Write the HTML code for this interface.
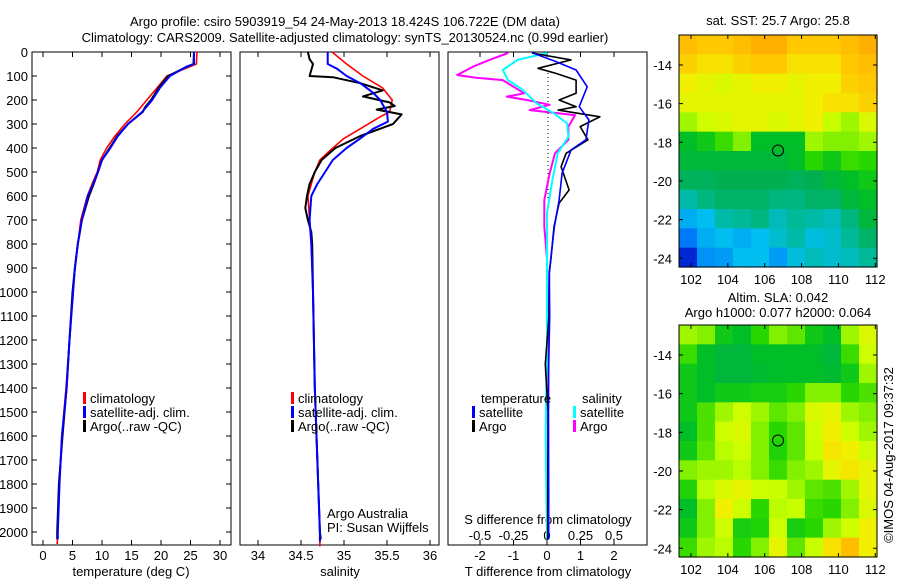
<!DOCTYPE html>
<html><head><meta charset="utf-8"><style>
body{margin:0;background:#fff;}
svg{display:block;font-family:"Liberation Sans",sans-serif;}
text{font-size:13px;fill:#000;}
</style></head><body>
<svg id="c" width="900" height="580" xmlns="http://www.w3.org/2000/svg"></svg>
<script>
// ---- data ----
const depthTicks=[0,100,200,300,400,500,600,700,800,900,1000,1100,1200,1300,1400,1500,1600,1700,1800,1900,2000];
const tempTicks=[0,5,10,15,20,25,30];
const salTicks=[34,34.5,35,35.5,36];
const tdTicks=[-2,-1,0,1,2];
const sdTickLabels=['-0.5','-0.25','0','0.25','0.5'];
const sdTicks=[-0.5,-0.25,0,0.25,0.5];
const tDepthClim=[0,50,100,150,200,250,300,350,400,450,500,550,600,700,800,900,1000,1200,1400,1600,1800,2000,2050];
const tempClim=[26.1,26.0,21.0,19.3,17.6,15.9,13.9,12.2,10.8,9.7,9.2,8.3,7.5,6.4,5.9,5.4,5.1,4.5,3.9,3.2,2.8,2.5,2.4];
const tDepthSat=[0,50,60,100,150,200,250,300,350,400,450,500,550,600,700,800,900,1000,1200,1400,1600,1800,2000,2030];
const tempSat=[25.6,25.6,24.4,21.5,19.8,18.5,16.8,14.4,12.7,11.4,10.0,9.3,8.5,7.6,6.6,5.9,5.4,5.1,4.5,4.0,3.2,2.8,2.5,2.5];
const tDepthArgo=[0,50,60,100,150,200,230,250,300,350,400,450,500,550,600,700,800,900,1000,1200,1400,1600,1800,2000,2030];
const tempArgo=[25.6,25.5,24.5,21.2,19.6,18.3,17.3,16.9,14.4,12.6,11.3,10.0,9.3,8.6,7.8,6.6,5.9,5.4,5.0,4.5,4.0,3.3,2.7,2.4,2.4];
const sDepthClim=[0,50,100,150,200,250,270,320,360,400,450,500,550,600,700,800,1000,1400,1600,1800,2000,2060];
const salClim=[34.86,35.03,35.22,35.45,35.56,35.53,35.42,35.19,35.0,34.87,34.72,34.66,34.62,34.58,34.6,34.62,34.64,34.66,34.68,34.70,34.72,34.72];
const sDepthSat=[0,50,70,100,130,170,200,250,290,320,360,400,450,500,550,600,700,800,1000,1400,1600,1800,2000,2040];
const salSat=[34.81,34.81,34.92,35.03,35.19,35.34,35.42,35.5,35.51,35.34,35.19,35.03,34.87,34.78,34.69,34.62,34.6,34.62,34.64,34.66,34.68,34.70,34.72,34.72];
const sDepthArgo=[0,30,50,100,105,130,160,185,210,225,240,260,300,350,400,450,500,550,600,650,700,750,800,1000,1400,1800,2000,2030];
const salArgo=[34.58,34.60,34.64,34.6,34.87,35.19,35.45,35.22,35.53,35.59,35.38,35.67,35.57,35.19,34.9,34.74,34.66,34.6,34.57,34.55,34.58,34.62,34.63,34.64,34.66,34.70,34.72,34.73];
const dDepthTSat=[4,40,75,145,228,283,366,408,505,617,728,838,920,1100,1300,1500,1900,2030];
const dTSat=[-0.42,0.27,0.87,1.2,0.96,1.25,1.16,0.72,0.45,0.36,0.22,0.13,0.07,0.08,0.05,0.04,0.05,0.05];
const dDepthTArgo=[4,33,68,89,117,172,200,228,242,270,311,366,422,478,575,630,728,860,920,1100,1300,1500,1900,2030];
const dTArgo=[-0.45,0.72,-0.27,0.27,0.87,0.87,0.36,0.87,0.33,1.58,0.99,1.22,0.57,0.42,0.66,0.36,0.21,0.12,0.07,0.06,-0.05,0.03,0.02,0.02];
const dDepthSSat=[4,33,75,117,158,213,255,297,353,422,533,672,860,1200,1600,2030];
const dSSat=[0.0,-0.22,-0.33,-0.29,-0.18,-0.08,0.05,0.15,0.16,0.08,0.04,0.0,0.0,0.0,-0.01,0.0];
const dDepthSArgo=[4,33,61,96,107,117,172,186,200,220,242,263,311,366,422,505,617,728,860,1200,1600,2030];
const dSArgo=[-0.29,-0.43,-0.55,-0.67,-0.53,-0.33,-0.17,-0.3,-0.15,0.02,-0.13,0.21,0.16,0.16,0.06,0.02,-0.02,-0.02,0.0,0.01,0.01,0.01];
const lonTicks=[102,104,106,108,110,112];
const latTicks=[-14,-16,-18,-20,-22,-24];
const sstGrid=[
[0.82,0.8,0.8,0.82,0.85,0.85,0.8,0.8,0.8,0.82,0.85],
[0.78,0.75,0.75,0.78,0.8,0.8,0.75,0.75,0.75,0.8,0.82],
[0.72,0.7,0.68,0.7,0.72,0.72,0.7,0.72,0.72,0.78,0.8],
[0.7,0.7,0.7,0.7,0.7,0.7,0.7,0.72,0.75,0.75,0.78],
[0.62,0.66,0.68,0.7,0.7,0.68,0.7,0.72,0.65,0.62,0.68],
[0.5,0.52,0.56,0.6,0.5,0.5,0.5,0.62,0.6,0.6,0.62],
[0.48,0.48,0.48,0.48,0.48,0.48,0.5,0.55,0.52,0.56,0.55],
[0.45,0.45,0.46,0.46,0.46,0.46,0.45,0.46,0.48,0.5,0.52],
[0.38,0.42,0.44,0.44,0.44,0.42,0.42,0.44,0.44,0.48,0.5],
[0.28,0.3,0.38,0.4,0.42,0.36,0.4,0.38,0.36,0.42,0.48],
[0.22,0.28,0.3,0.28,0.3,0.34,0.38,0.32,0.34,0.4,0.44],
[0.1,0.25,0.26,0.3,0.3,0.26,0.32,0.36,0.34,0.36,0.4]];
const slaGrid=[
[0.62,0.6,0.52,0.5,0.55,0.6,0.58,0.52,0.5,0.62,0.68],
[0.56,0.5,0.48,0.48,0.5,0.5,0.5,0.5,0.48,0.56,0.66],
[0.52,0.5,0.48,0.48,0.49,0.5,0.5,0.5,0.49,0.52,0.62],
[0.52,0.5,0.52,0.52,0.53,0.53,0.55,0.6,0.6,0.55,0.57],
[0.52,0.57,0.62,0.66,0.62,0.58,0.6,0.68,0.7,0.62,0.6],
[0.5,0.57,0.66,0.68,0.6,0.55,0.58,0.66,0.72,0.66,0.62],
[0.52,0.58,0.64,0.66,0.6,0.54,0.58,0.65,0.74,0.72,0.66],
[0.6,0.62,0.62,0.64,0.6,0.56,0.6,0.62,0.7,0.74,0.7],
[0.54,0.64,0.68,0.7,0.66,0.65,0.62,0.58,0.57,0.62,0.7],
[0.5,0.6,0.72,0.66,0.55,0.64,0.65,0.56,0.55,0.6,0.68],
[0.52,0.6,0.66,0.53,0.54,0.66,0.53,0.55,0.62,0.66,0.72],
[0.56,0.62,0.64,0.55,0.6,0.7,0.58,0.65,0.75,0.82,0.72]];
const argoLon=106.722, argoLat=-18.424;

// ---- helpers ----
const NS='http://www.w3.org/2000/svg';
const svg=document.getElementById('c');
function el(tag,attrs,parent){const e=document.createElementNS(NS,tag);for(const k in attrs)e.setAttribute(k,attrs[k]);(parent||svg).appendChild(e);return e;}
function txt(x,y,s,anchor,parent){const t=el('text',{x:x,y:y,'text-anchor':anchor||'start'},parent);t.textContent=s;return t;}
const yD=d=>52+d*0.24;
const xT=t=>43+t*5.9;
const xS=s=>258+(s-34)*86;
const xdT=t=>547+t*33.5;
const xdS=s=>547+s*134;
function line(xs,ds,fx,color,w,name){
  const p=xs.map((v,i)=>fx(v).toFixed(1)+','+yD(ds[i]).toFixed(1)).join(' ');
  const l=el('polyline',{points:p,fill:'none',stroke:color,'stroke-width':w,'stroke-linejoin':'round'});
  
  
}
function panel(x0,name){
  const r=el('rect',{x:x0,y:52,width:199,height:493,fill:'none',stroke:'#000','stroke-width':1});
  
  
}

let t=txt(345,26,'Argo profile: csiro 5903919_54 24-May-2013 18.424S 106.722E (DM data)','middle');

t=txt(345,42,'Climatology: CARS2009. Satellite-adjusted climatology: synTS_20130524.nc (0.99d earlier)','middle');


panel(32,'temperature-panel');panel(240,'salinity-panel');panel(448,'difference-panel');

depthTicks.forEach(d=>{
  const y=yD(d);
  const lb=txt(28,y+5,String(d),'end');
  
  
  el('line',{x1:32,y1:y,x2:37,y2:y,stroke:'#000'});
  el('line',{x1:226,y1:y,x2:231,y2:y,stroke:'#000'});
});
tempTicks.forEach(v=>{const x=xT(v);
  el('line',{x1:x,y1:545,x2:x,y2:540,stroke:'#000'});el('line',{x1:x,y1:52,x2:x,y2:57,stroke:'#000'});
  const lb=txt(x,560,String(v),'middle');});
t=txt(131,576,'temperature (deg C)','middle');
salTicks.forEach(v=>{const x=xS(v);
  el('line',{x1:x,y1:545,x2:x,y2:540,stroke:'#000'});el('line',{x1:x,y1:52,x2:x,y2:57,stroke:'#000'});
  const lb=txt(x,560,String(v),'middle');});
t=txt(340,576,'salinity','middle');
tdTicks.forEach(v=>{const x=xdT(v);
  el('line',{x1:x,y1:545,x2:x,y2:540,stroke:'#000'});el('line',{x1:x,y1:52,x2:x,y2:57,stroke:'#000'});
  const lb=txt(x,560,String(v),'middle');});
sdTicks.forEach((v,i)=>{const lb=txt(xdS(v),540,sdTickLabels[i],'middle');});
t=txt(548,524,'S difference from climatology','middle');
t=txt(548,576,'T difference from climatology','middle');
const dz=el('line',{x1:548,y1:73,x2:548,y2:200,stroke:'#000','stroke-dasharray':'1,3'});


line(tempClim,tDepthClim,xT,'#f00',1.6,'temp-climatology-line');
line(tempArgo,tDepthArgo,xT,'#000',2,'temp-argo-line');
line(tempSat,tDepthSat,xT,'#00f',2,'temp-satellite-line');
line(salClim,sDepthClim,xS,'#f00',1.6,'sal-climatology-line');
line(salArgo,sDepthArgo,xS,'#000',2,'sal-argo-line');
line(salSat,sDepthSat,xS,'#00f',2,'sal-satellite-line');
line(dSArgo,dDepthSArgo,xdS,'#f0f',2,'s-diff-argo-line');
line(dSSat,dDepthSSat,xdS,'#0ff',2,'s-diff-satellite-line');
line(dTArgo,dDepthTArgo,xdT,'#000',1.6,'t-diff-argo-line');
line(dTSat,dDepthTSat,xdT,'#00f',1.6,'t-diff-satellite-line');

function leg(x,y,color,label,name){
  const g=el('g',{});
  el('rect',{x:x,y:y-11,width:3,height:12,fill:color},g);txt(x+7,y,label,'start',g);
}
[[32,'temp'],[240,'sal']].forEach(([x0,n])=>{
  leg(x0+51,403,'#f00','climatology',n+'-legend-climatology');
  leg(x0+51,417,'#00f','satellite-adj. clim.',n+'-legend-satellite');
  leg(x0+51,431,'#000','Argo(..raw -QC)',n+'-legend-argo');
});
t=txt(481,403,'temperature');
t=txt(582,403,'salinity');
leg(472,417,'#00f','satellite','legend-t-satellite');
leg(472,431,'#000','Argo','legend-t-argo');
leg(573,417,'#0ff','satellite','legend-s-satellite');
leg(573,431,'#f0f','Argo','legend-s-argo');
t=txt(327,518,'Argo Australia');
t=txt(327,532,'PI: Susan Wijffels');

const stops=[[0,[0,0,130]],[0.15,[0,60,255]],[0.3,[0,190,240]],[0.4,[0,185,150]],[0.46,[0,175,80]],[0.5,[0,190,40]],[0.55,[40,215,0]],[0.6,[130,240,0]],[0.65,[200,255,0]],[0.72,[240,240,0]],[0.8,[255,200,0]],[0.88,[255,160,0]],[1,[230,90,0]]];
function cmap(v){for(let i=1;i<stops.length;i++){if(v<=stops[i][0]){const a=stops[i-1],b=stops[i],f=(v-a[0])/(b[0]-a[0]);const c=a[1].map((q,k)=>Math.round(q+(b[1][k]-q)*f));return 'rgb('+c.join(',')+')';}}return 'rgb(230,90,0)';}
function map(y0,grid,name){
  const x0=679,w=198,h=232,lon0=101.35,lat0=-12.45;
  const xL=l=>x0+(l-lon0)*18.43, yL=l=>y0+(lat0-l)*19.33;
  const g=el('g',{});
  const rows=grid.length,cols=grid[0].length;
  grid.forEach((row,r)=>row.forEach((v,c)=>{
    const cell=el('rect',{x:(x0+c*w/cols).toFixed(2),y:(y0+r*h/rows).toFixed(2),width:(w/cols+0.6).toFixed(2),height:(h/rows+0.6).toFixed(2),fill:cmap(v)},g);
    
    
  }));
  el('rect',{x:x0,y:y0,width:w,height:h,fill:'none',stroke:'#000'},g);
  lonTicks.forEach(l=>{const x=xL(l);el('line',{x1:x,y1:y0+h,x2:x,y2:y0+h-4,stroke:'#000'},g);el('line',{x1:x,y1:y0,x2:x,y2:y0+4,stroke:'#000'},g);
    const lb=txt(x,y0+h+17,String(l),'middle',g);});
  latTicks.forEach(l=>{const y=yL(l);el('line',{x1:x0,y1:y,x2:x0+4,y2:y,stroke:'#000'},g);el('line',{x1:x0+w,y1:y,x2:x0+w-4,y2:y,stroke:'#000'},g);
    const lb=txt(x0-7,y+5,String(l),'end',g);});
  const m=el('circle',{cx:xL(argoLon),cy:yL(argoLat),r:5.5,fill:'none',stroke:'#000','stroke-width':1},g);
  
}
map(35,sstGrid,'sst-map');
map(325,slaGrid,'sla-map');
t=txt(778,25,'sat. SST: 25.7 Argo: 25.8','middle');
t=txt(778,302,'Altim. SLA: 0.042','middle');
t=txt(778,317,'Argo h1000: 0.077 h2000: 0.064','middle');
t=txt(0,0,'©IMOS 04-Aug-2017 09:37:32','middle');
t.setAttribute('transform','translate(893,455) rotate(-90)');

</script>
</body></html>
